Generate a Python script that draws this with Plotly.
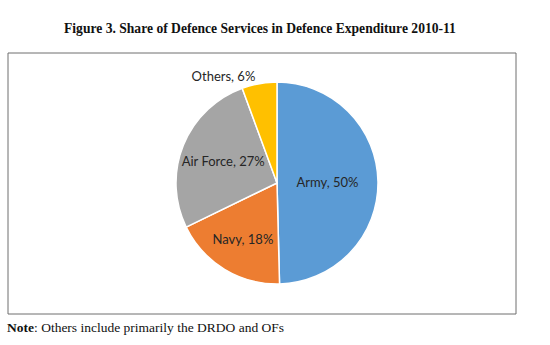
import plotly.graph_objects as go

labels = ["Army", "Navy", "Air Force", "Others"]
values = [49.6, 18.2, 26.6, 5.6]
colors = ["#5B9BD5", "#ED7D31", "#A5A5A5", "#FFC000"]
positions = ["inside", "inside", "inside", "outside"]

title_text = "Figure 3. Share of Defence Services in Defence Expenditure 2010-11"
note_text = "<b>Note</b>: Others include primarily the DRDO and OFs"

W, H = 550, 345
cx, cy, r = 277, 183, 101

fig = go.Figure(go.Pie(
    labels=labels, values=values, sort=False, direction="clockwise", rotation=0,
    marker=dict(colors=colors, line=dict(color="white", width=1.5)),
    texttemplate="%{label}, %{percent:.0%}",
    textposition=positions,
    insidetextorientation="horizontal",
    textfont=dict(family="Lato, Open Sans, sans-serif", size=13, color="#262626"),
    outsidetextfont=dict(family="Lato, Open Sans, sans-serif", size=13, color="#262626"),
    showlegend=False, hoverinfo="label+percent",
    domain=dict(x=[(cx - r) / W, (cx + r) / W], y=[(H - cy - r) / H, (H - cy + r) / H]),
))

fig.add_shape(type="rect", xref="paper", yref="paper",
              x0=8 / W, x1=516 / W, y0=1 - 53 / H, y1=1 - 314 / H,
              line=dict(color="#6f6f6f", width=1), layer="below")

fig.add_annotation(text="<b>" + title_text + "</b>", xref="paper", yref="paper",
                   x=260 / W, y=1 - 28 / H, showarrow=False, xanchor="center", yanchor="middle",
                   font=dict(family="Liberation Serif, Times New Roman, serif", size=13.6, color="#111"))
fig.add_annotation(text=note_text, xref="paper", yref="paper",
                   x=5 / W, y=1 - 327 / H, showarrow=False, xanchor="left", yanchor="middle",
                   font=dict(family="Liberation Serif, Times New Roman, serif", size=13.5, color="#111"))

fig.update_layout(width=W, height=H, margin=dict(l=0, r=0, t=0, b=0),
                  paper_bgcolor="white", plot_bgcolor="white")
fig.write_html("out.html")
